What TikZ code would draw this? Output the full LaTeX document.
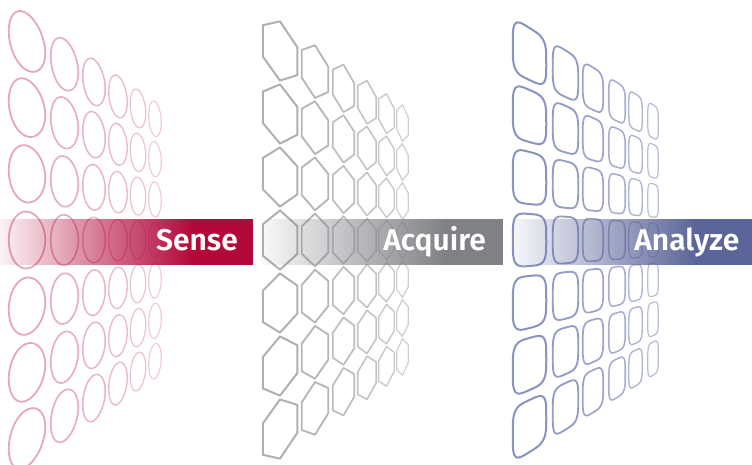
\documentclass[tikz,border=0pt]{standalone}
\usepackage{fontspec}
\usetikzlibrary{fadings}
\newfontfamily\bandfont{Fira Sans}[BoldFont={* SemiBold}]

\definecolor{sensered}{RGB}{178,8,58}
\definecolor{acqgray}{RGB}{128,129,133}
\definecolor{analyzeblue}{RGB}{92,101,153}
\definecolor{ringpink}{RGB}{228,166,187}
\definecolor{hexgray}{RGB}{176,176,178}
\definecolor{tileblue}{RGB}{138,147,192}

% bands fade in from the left
\tikzfading[name=bandfade, left color=transparent!95, right color=transparent!0]

\tikzset{
  bandlabel/.style={font=\bandfont\bfseries\fontsize{30}{30}\selectfont,
    text=white, anchor=base east, inner sep=0pt},
}

\begin{document}
\begin{tikzpicture}[x=1pt, y=-1pt, line join=round]
\useasboundingbox (0,0) rectangle (752,465);

% ---- Sense: rings on a receding wall (row spacing shrinks to the right)
\foreach \xc/\w [count=\k] in {27/36.5, 64.5/27.5, 94/22.5, 118/18.5, 138/15.5, 155/12.5} {
  \pgfmathsetmacro\hw{\w/2}
  \pgfmathsetmacro\lw{1.75-0.12*(\k-1)}
  \pgfmathtruncatemacro\tint{100-8*(\k-1)}
  \foreach \rr in {-3,...,3} {
    \draw[ringpink!\tint!white, line width=\lw pt]
      plot[variable=\t, domain=0:360, samples=73]
      ({\xc+cos(\t)*\hw}, {240+(\rr+0.43*sin(\t))*(66-0.2*(\xc+cos(\t)*\hw-27))}) -- cycle;
  }
}

% ---- Acquire: pointy-top hexagons
\foreach \xc/\w [count=\k] in {280/34.5, 315/26.5, 343.5/21.5, 367/18.5, 386.5/15.5, 402.5/11.5} {
  \pgfmathsetmacro\hw{\w/2}
  \pgfmathsetmacro\lw{2.0-0.15*(\k-1)}
  \pgfmathtruncatemacro\tint{100-8*(\k-1)}
  \foreach \rr in {-3,...,3} {
    \foreach \a/\b [count=\v] in {0/-1, 1/-0.5, 1/0.5, 0/1, -1/0.5, -1/-0.5} {
      \coordinate (hx\v) at ({\xc+\a*\hw}, {240+(\rr+\b*0.47)*(63-0.196*(\xc+\a*\hw-280))});
    }
    \draw[hexgray!\tint!white, line width=\lw pt]
      (hx1) -- (hx2) -- (hx3) -- (hx4) -- (hx5) -- (hx6) -- cycle;
  }
}

% ---- Analyze: rounded tiles (superellipses)
\foreach \xc/\w [count=\k] in {529.5/33.5, 565.5/25.5, 593/20.5, 617/16.5, 635.5/13.5, 653/10.5} {
  \pgfmathsetmacro\hw{\w/2}
  \pgfmathsetmacro\lw{2.0-0.15*(\k-1)}
  \pgfmathtruncatemacro\tint{100-8*(\k-1)}
  \foreach \rr in {-3,...,3} {
    \draw[tileblue!\tint!white, line width=\lw pt]
      plot[variable=\t, domain=1:361, samples=73]
      ({\xc+\hw*cos(\t)*abs(cos(\t))^(-0.5)},
       {240+(\rr+0.42*sin(\t)*abs(sin(\t))^(-0.5))*(62-0.182*(\xc+\hw*cos(\t)*abs(cos(\t))^(-0.5)-529.5))}) -- cycle;
  }
}

% ---- bands
\fill[sensered, path fading=bandfade] (0,219) rectangle (192,265);
\fill[sensered] (191.5,219) rectangle (253,265);
\fill[acqgray, path fading=bandfade] (262,219) rectangle (445,265);
\fill[acqgray] (444.5,219) rectangle (503,265);
\fill[analyzeblue, path fading=bandfade] (512,219) rectangle (695,265);
\fill[analyzeblue] (694.5,219) rectangle (752,265);

\node[bandlabel] (sense) at (238,251) {Sense};
\node[bandlabel] (acquire) at (486,251) {Acquire};
\node[bandlabel] (analyze) at (739.5,251) {Analyze};
\end{tikzpicture}
\end{document}
